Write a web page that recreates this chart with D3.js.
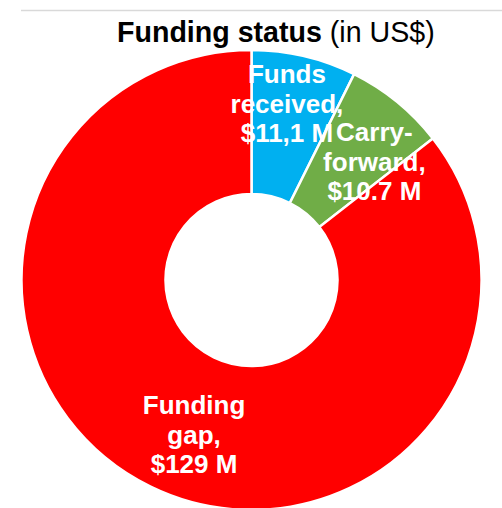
<!DOCTYPE html>
<html>
<head>
<meta charset="utf-8">
<script src="https://cdn.jsdelivr.net/npm/d3@7"></script>
<style>
  html, body { margin: 0; padding: 0; background: #fff; }
  svg { display: block; font-family: 'Liberation Sans', Arial, sans-serif; }
</style>
</head>
<body>
<div id="chart"></div>
<script>
// Funding status donut
const categories = ['Funds received', 'Carry-forward', 'Funding gap']
const values = [11.1, 10.7, 129]
const labelLines = [
  ['Funds', 'received,', '$11,1 M'],
  ['Carry-', 'forward,', '$10.7 M'],
  ['Funding', 'gap,', '$129 M']
]
const colors = ['#00B0F0', '#70AD47', '#FF0000']

const width = 502
const height = 508
const cx = 251.5
const cy = 280
const outerR = 230
const innerR = 86
const labelR = 172
// manual nudges, like dragged data labels in the source
const labelNudge = [[-4, -9], [14, 15], [18, 0]]

const svg = d3.select('#chart')
  .append('svg')
  .attr('width', width)
  .attr('height', height)

// thin rule on top
svg.append('line')
  .attr('x1', 21)
  .attr('x2', width)
  .attr('y1', 10.5)
  .attr('y2', 10.5)
  .attr('stroke', '#d9d9d9')
  .attr('stroke-width', 1.5)

const title = svg.append('text')
  .attr('x', 117)
  .attr('y', 42)
  .attr('font-size', 28.6)
  .attr('fill', '#000')
title.append('tspan').attr('font-weight', 'bold').text('Funding status')
title.append('tspan').text(' (in US$)')

const pie = d3.pie().sort(null).value(d => d)
const arcs = pie(values)

const arc = d3.arc().innerRadius(innerR).outerRadius(outerR)
const labelArc = d3.arc().innerRadius(labelR).outerRadius(labelR)

const g = svg.append('g')
  .attr('transform', `translate(${cx}, ${cy})`)

g.selectAll('path')
  .data(arcs)
  .join('path')
  .attr('d', arc)
  .attr('fill', (d, i) => colors[i])
  .attr('stroke', '#fff')
  .attr('stroke-width', 2.5)
  .attr('stroke-linejoin', 'miter')

const lineH = 29.5
const labels = g.selectAll('text.lbl')
  .data(arcs)
  .join('text')
  .attr('class', 'lbl')
  .attr('text-anchor', 'middle')
  .attr('font-size', 26)
  .attr('font-weight', 'bold')
  .attr('fill', '#fff')
  .attr('transform', (d, i) => {
    const [x, y] = labelArc.centroid(d)
    return `translate(${x + labelNudge[i][0]}, ${y + labelNudge[i][1]})`
  })

labels.selectAll('tspan')
  .data((d, i) => labelLines[i])
  .join('tspan')
  .attr('x', 0)
  .attr('y', (t, j, nodes) => (j - (nodes.length - 1) / 2) * lineH + 9)
  .text(t => t)
</script>
</body>
</html>
